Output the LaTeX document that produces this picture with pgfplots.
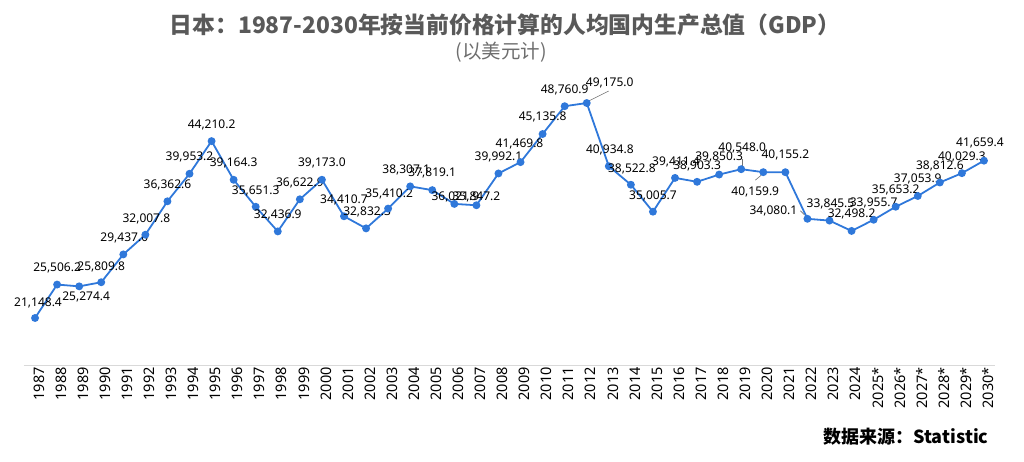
\documentclass[border=0pt]{standalone}
\usepackage{pgfplots}
\pgfplotsset{compat=1.18}
\usepackage{pgfplotstable}
\usepackage{fontspec}
\setmainfont{Noto Sans}
\newfontfamily\cjk{Noto Sans CJK SC}
\definecolor{lineblue}{RGB}{47,120,218}
\definecolor{titlegrey}{RGB}{89,89,89}
\definecolor{subgrey}{RGB}{110,110,110}
\definecolor{axisgrey}{RGB}{217,217,217}

\pgfplotstableread{
x y dx dy
0 21148.4 3 15
1 25506.2 0 17
2 25274.4 7 -11
3 25809.8 0 15
4 29437.0 1 16
5 32007.8 1 16
6 36362.6 0 16
7 39953.2 0 17
8 44210.2 0 16
9 39164.3 0 17
10 35651.3 0 16
11 32436.9 0 16
12 36622.9 0 16
13 39173.0 0 17
14 34410.7 0 16
15 32832.3 1 16
16 35410.2 1 15
17 38307.1 -4 16
18 37819.1 0 17
19 36021.9 1 7
20 35847.2 0 8
21 39992.1 0 17
22 41469.8 -1 18
23 45135.8 0 17
24 48760.9 0 16
25 49175.0 23 20
26 40934.8 1 16
27 38522.8 1 16
28 35005.7 0 16
29 39411.4 1 16
30 38903.3 0 16
31 39850.3 0 18
32 40548.0 1 21
33 40159.9 -8 -20
34 40155.2 0 17
35 34080.1 -34 8
36 33845.5 1 17
37 32498.2 0 17
38 33955.7 0 17
39 35653.2 0 17
40 37053.9 0 17
41 38812.6 0 17
42 40029.3 0 16
43 41659.4 -4 18
}\gdpdata

\begin{document}
\begin{tikzpicture}[x=1pt,y=1pt]
\useasboundingbox (0,0) rectangle (1024,462);
\node[font=\cjk\bfseries\fontsize{22.8}{22.8}\selectfont, text=titlegrey] at (505,437) {日本：1987-2030年按当前价格计算的人均国内生产总值（GDP）};
\node[font=\cjk\fontsize{19.5}{19.5}\selectfont, text=subgrey] at (501,410) {(以美元计)};
\node[font=\cjk\bfseries\fontsize{18}{18}\selectfont, anchor=east] at (992,25) {数据来源：Statistic};
\begin{axis}[
  at={(24pt,96pt)}, anchor=south west,
  scale only axis, width=971pt, height=269.3pt,
  xmin=-0.5, xmax=43.5, ymin=14890, ymax=50000,
  axis x line*=bottom, axis y line=none,
  x axis line style={-, draw=axisgrey, line width=1pt},
  xtick=data, major tick length=0pt,
  xticklabels={1987,1988,1989,1990,1991,1992,1993,1994,1995,1996,1997,1998,1999,2000,2001,2002,2003,2004,2005,2006,2007,2008,2009,2010,2011,2012,2013,2014,2015,2016,2017,2018,2019,2020,2021,2022,2023,2024,2025*,2026*,2027*,2028*,2029*,2030*},
  x tick label style={rotate=90, anchor=east, font=\fontsize{14.5}{14.5}\selectfont, inner sep=1pt, yshift=-4pt},
  /pgf/number format/assume math mode=true,
  clip=false,
]
\addplot[color=lineblue, line width=1.8pt, mark=*, mark size=3pt, mark options={fill=lineblue, draw=lineblue},
  nodes near coords={\pgfmathprintnumber[fixed,fixed zerofill,precision=1,1000 sep={,}]{\pgfplotspointmeta}},
  point meta=explicit,
  visualization depends on={\thisrow{dx} \as \labdx},
  visualization depends on={\thisrow{dy} \as \labdy},
  every node near coord/.append style={anchor=center, xshift=\labdx pt, yshift=\labdy pt, font=\fontsize{12}{12}\selectfont, text=black, inner sep=0pt},
] table[x=x, y=y, meta=y] {\gdpdata};
\draw[black!55, line width=0.6pt] ([xshift=2pt,yshift=2pt]axis cs:25,49175.0) -- ([xshift=22pt,yshift=12pt]axis cs:25,49175.0);
\draw[black!55, line width=0.6pt] ([xshift=1pt,yshift=3pt]axis cs:32,40548.0) -- ([xshift=1pt,yshift=10pt]axis cs:32,40548.0);
\draw[black!55, line width=0.6pt] ([xshift=-8pt,yshift=-8pt]axis cs:33,40159.9) -- ([xshift=-2pt,yshift=-3pt]axis cs:33,40159.9);
\draw[black!55, line width=0.6pt] ([xshift=-7pt,yshift=8pt]axis cs:35,34080.1) -- ([xshift=-3pt,yshift=4pt]axis cs:35,34080.1);
\end{axis}
\end{tikzpicture}
\end{document}
